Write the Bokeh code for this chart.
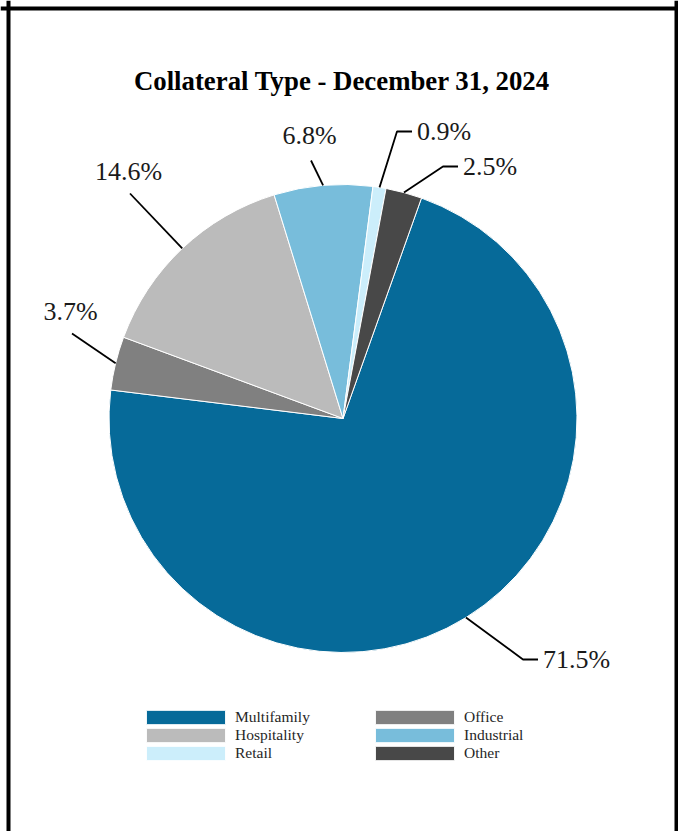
import numpy as np
from bokeh.plotting import figure
from bokeh.models import (Range1d, Span, Label, LabelSet, Legend, LegendItem,
                          ColumnDataSource)
from bokeh.embed import file_html
from bokeh.resources import INLINE

# ---- data ----
categories = ["Multifamily", "Office", "Hospitality", "Industrial", "Retail", "Other"]
shares = [71.5, 3.7, 14.6, 6.8, 0.9, 2.5]
labels = ["71.5%", "3.7%", "14.6%", "6.8%", "0.9%", "2.5%"]
colors = ["#066A99", "#808080", "#BBBBBB", "#78BDDB", "#CCEEFB", "#484848"]
title_text = "Collateral Type - December 31, 2024"

# ---- layout ----
W, H = 678, 831
CX, CY, R = 342.5, 413, 234
START_DEG = 19.6  # first slice begins this many degrees clockwise from 12 o'clock
elbow_dx = [180, -271, -213, -32, 54, 100]
elbow_dy = [-241, 85, 225, 258, 287, 252]
side = ["right", "above", "above", "above", "right", "right"]
above_gap = [0, 22, 22, 25, 0, 0]
FONT = "Liberation Serif, Times New Roman, serif"

total = float(sum(shares))
cum = np.concatenate([[0.0], np.cumsum(shares)]) / total * 360.0 + START_DEG
c0, c1 = cum[:-1], cum[1:]
mid = np.radians((c0 + c1) / 2)

src = ColumnDataSource(dict(
    cat=categories, share=shares, color=colors,
    start=np.radians(90 - c1), end=np.radians(90 - c0),
))

p = figure(width=W, height=H, output_backend="svg", toolbar_location=None,
           x_range=Range1d(0, W), y_range=Range1d(0, H),
           x_axis_location=None, y_axis_location=None, min_border=0)
p.grid.visible = False
p.outline_line_color = None
p.background_fill_color = "white"
p.border_fill_color = "white"

wedges = p.wedge(x=CX, y=CY, radius=R, start_angle="start", end_angle="end",
                 direction="anticlock", fill_color="color", line_color="white",
                 line_width=1, source=src)

# leader lines and labels
xs, ys = [], []
rt = dict(x=[], y=[], t=[])
ab = dict(x=[], y=[], t=[])
for i in range(len(shares)):
    ax = CX + R * np.sin(mid[i])
    ay = CY + R * np.cos(mid[i])
    ex = CX + elbow_dx[i]
    ey = CY + elbow_dy[i]
    if side[i] == "right":
        xs.append([ax, ex, ex + 15]); ys.append([ay, ey, ey])
        rt["x"].append(ex + 20); rt["y"].append(ey); rt["t"].append(labels[i])
    else:
        xs.append([ax, ex]); ys.append([ay, ey])
        ab["x"].append(ex - 1.5); ab["y"].append(ey + above_gap[i]); ab["t"].append(labels[i])

p.multi_line(xs=xs, ys=ys, line_color="black", line_width=1.8)
p.add_layout(LabelSet(x="x", y="y", text="t", source=ColumnDataSource(rt),
                      text_font=FONT, text_font_size="26px", text_align="left",
                      text_baseline="middle", text_color="#1a1a1a"))
p.add_layout(LabelSet(x="x", y="y", text="t", source=ColumnDataSource(ab),
                      text_font=FONT, text_font_size="26px", text_align="center",
                      text_baseline="middle", text_color="#1a1a1a"))

# title
p.add_layout(Label(x=341.5, y=751, text=title_text, text_font=FONT,
                   text_font_style="bold", text_font_size="26.8px",
                   text_align="center", text_baseline="middle",
                   text_color="black"))

# legend (two columns)
def make_legend(idx, loc):
    items = [LegendItem(label=categories[i], renderers=[wedges], index=i) for i in idx]
    lg = Legend(items=items, location=loc, orientation="vertical",
                glyph_width=99, glyph_height=18, label_height=18, spacing=0,
                label_standoff=0, padding=0, margin=0,
                border_line_color=None, background_fill_alpha=0,
                label_text_font=FONT, label_text_font_size="15.5px",
                label_text_color="#262626", label_text_baseline="middle")
    p.add_layout(lg, "center")

make_legend([0, 2, 4], (136, 69))
make_legend([1, 3, 5], (365, 69))

# frame (left, top, right)
p.add_layout(Span(location=8, dimension="height", line_color="black", line_width=4))
p.add_layout(Span(location=676, dimension="height", line_color="black", line_width=4))
p.add_layout(Span(location=H - 8, dimension="width", line_color="black", line_width=4))

open("out.html", "w").write(file_html(p, INLINE))
